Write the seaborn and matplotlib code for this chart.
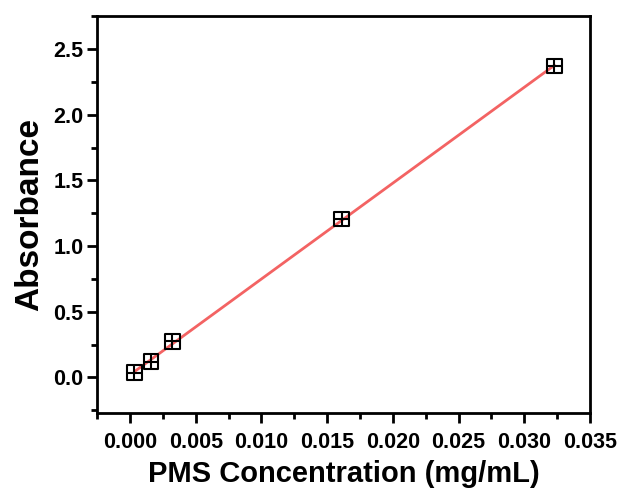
import matplotlib
matplotlib.use("Agg")
import matplotlib.pyplot as plt
import seaborn as sns
import pandas as pd
import numpy as np
from matplotlib.ticker import MultipleLocator, FormatStrFormatter

conc = [0.000323, 0.00161, 0.00323, 0.0161, 0.0323]
absorb = [0.035, 0.12, 0.275, 1.205, 2.37]
df = pd.DataFrame({"conc": conc, "abs": absorb})

sns.set_theme(style="ticks")
plt.rcParams['font.family'] = ['Liberation Sans', 'DejaVu Sans']
plt.rcParams['font.weight'] = 'bold'

fig = plt.figure(figsize=(6.19, 4.92), dpi=100)
ax = fig.add_axes([0.157, 0.161, 0.796, 0.806])

sns.regplot(data=df, x="conc", y="abs", scatter=False, ci=None, truncate=True,
            line_kws=dict(color="#F36363", lw=2, zorder=2), ax=ax)
sns.scatterplot(data=df, x="conc", y="abs", marker="s", s=110, facecolor="none",
                edgecolor="black", linewidth=1.5, ax=ax, zorder=3)
sns.scatterplot(data=df, x="conc", y="abs", marker="+", s=110, color="black",
                linewidth=1.5, ax=ax, zorder=3)

ax.set_xlim(-0.0025, 0.035)
ax.set_ylim(-0.27, 2.75)
ax.xaxis.set_major_locator(MultipleLocator(0.005))
ax.xaxis.set_minor_locator(MultipleLocator(0.0025))
ax.yaxis.set_major_locator(MultipleLocator(0.5))
ax.yaxis.set_minor_locator(MultipleLocator(0.25))
ax.xaxis.set_major_formatter(FormatStrFormatter('%.3f'))
ax.yaxis.set_major_formatter(FormatStrFormatter('%.1f'))

for s in ax.spines.values():
    s.set_linewidth(2)
    s.set_color("black")
ax.tick_params(which="major", direction="out", length=7, width=2, labelsize=15.5,
               colors="black", labelcolor="black")
ax.tick_params(axis="x", which="major", pad=7)
ax.tick_params(axis="y", which="major", pad=3)
ax.tick_params(which="minor", direction="out", length=4, width=2, colors="black")
for lab in ax.get_xticklabels() + ax.get_yticklabels():
    lab.set_fontweight("bold")

ax.set_xlabel("PMS Concentration (mg/mL)", fontsize=21, fontweight="bold",
              color="black", labelpad=5)
ax.set_ylabel("Absorbance", fontsize=24, fontweight="bold", color="black", labelpad=6)

fig.savefig("out.png", dpi=100)
